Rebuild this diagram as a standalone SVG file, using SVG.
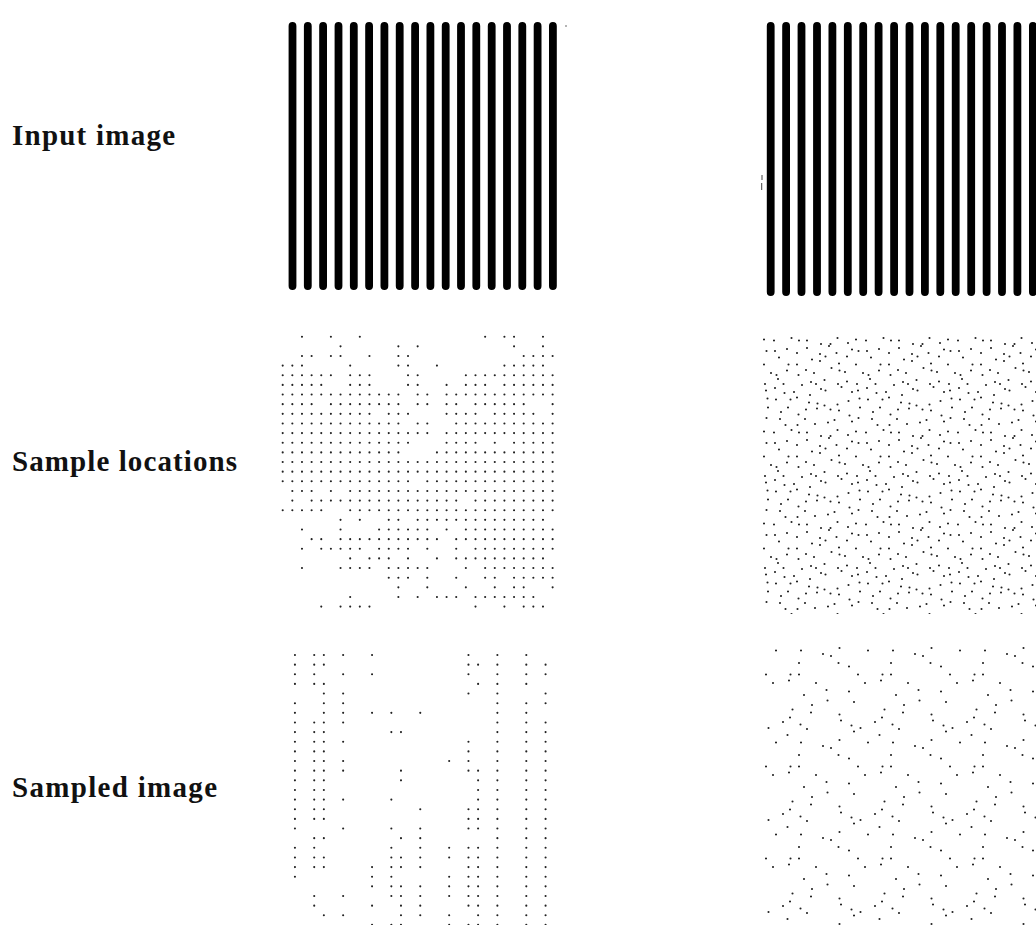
<svg xmlns="http://www.w3.org/2000/svg" width="1036" height="925" viewBox="0 0 1036 925">
<style>
.lbl{font-family:"Liberation Serif","DejaVu Serif",serif;font-weight:bold;font-size:29px;fill:#111}
.bar{stroke:#000;stroke-width:7.8;stroke-linecap:round;fill:none}
.gd{fill:none;stroke:#222;stroke-width:0.22;stroke-linecap:round;stroke-dasharray:0 1}
.rd{fill:none;stroke:#222;stroke-width:2.1;stroke-linecap:round}
</style>
<defs>
<pattern id="rl" patternUnits="userSpaceOnUse" x="762" y="335" width="92" height="92">
<path class="rd" d="M2 4.5h.01M12 5.5h.01M29.5 3h.01M37 5.5h.01M45 5.5h.01M59 9h.01M68.5 9h.01M75.5 3h.01M86 8h.01M4.5 16h.01M13 16h.01M25 14h.01M35 18h.01M45 13h.01M58 19h.01M67 11h.01M74.5 18h.01M90 14.5h.01M2 29.5h.01M17 22.5h.01M26.5 29.5h.01M35 29.5h.01M50 24.5h.01M58 26h.01M63.5 21.5h.01M77 28.5h.01M85 21.5h.01M9 38h.01M14.5 40h.01M25 35.5h.01M36.5 40h.01M44 35h.01M52 38h.01M69.5 33h.01M77.5 35.5h.01M83 37h.01M3 49h.01M16 44h.01M21.5 49h.01M40 50h.01M49 47h.01M54 49h.01M62.5 45h.01M76 49h.01M85 46.5h.01M4 55.5h.01M13 53h.01M22.5 58h.01M32 57h.01M48 60h.01M59 54h.01M63.5 55.5h.01M79.5 52h.01M90 57h.01M5.5 63.5h.01M14 64.5h.01M28.5 64.5h.01M35 62.5h.01M47 67.5h.01M55.5 68.5h.01M62.5 70.5h.01M75.5 69.5h.01M86.5 66h.01M6 72.5h.01M19 77h.01M26 72.5h.01M36.5 79.5h.01M44 74.5h.01M55 73.5h.01M68.5 74.5h.01M77 75.5h.01M87.5 80.5h.01M4.5 83h.01M18 84h.01M23.5 90h.01M35.5 90h.01M43 84h.01M53 89h.01M66 87.5h.01M72.5 85h.01M90 86.5h.01"/>
</pattern>
<pattern id="rs" patternUnits="userSpaceOnUse" x="764" y="645" width="92" height="92">
<path class="rd" d="M12 5.5h.01M37 5.5h.01M59 9h.01M75.5 3h.01M35 18h.01M67 11h.01M74.5 18h.01M2 29.5h.01M26.5 29.5h.01M35 29.5h.01M85 21.5h.01M9 38h.01M25 35.5h.01M52 38h.01M40 50h.01M62.5 45h.01M85 46.5h.01M48 60h.01M63.5 55.5h.01M90 57h.01M28.5 64.5h.01M47 67.5h.01M75.5 69.5h.01M19 77h.01M26 72.5h.01M36.5 79.5h.01M77 75.5h.01M87.5 80.5h.01M4.5 83h.01M23.5 90h.01M43 84h.01M90 86.5h.01"/>
</pattern>
</defs>
<rect width="1036" height="925" fill="#fff"/>

<g id="labels">
<text class="lbl" x="12" y="145" textLength="163" lengthAdjust="spacing">Input image</text>
<text class="lbl" x="12" y="471" textLength="225" lengthAdjust="spacing">Sample locations</text>
<text class="lbl" x="12" y="797" textLength="205" lengthAdjust="spacing">Sampled image</text>
</g>

<g id="input-left">
<path class="bar" d="M292.5 26V286M307.8 26V286M323.1 26V286M338.5 26V286M353.8 26V286M369.1 26V286M384.4 26V286M399.7 26V286M415.1 26V286M430.4 26V286M445.7 26V286M461 26V286M476.3 26V286M491.7 26V286M507 26V286M522.3 26V286M537.6 26V286M552.9 26V286"/>
<circle cx="566" cy="26" r="0.8" fill="#555"/>
</g>

<g id="input-right">
<path class="bar" d="M770.7 26V292M786.1 26V292M801.5 26V292M817 26V292M832.4 26V292M847.8 26V292M863.2 26V292M878.6 26V292M894.1 26V292M909.5 26V292M924.9 26V292M940.3 26V292M955.7 26V292M971.2 26V292M986.6 26V292M1002 26V292M1017.4 26V292M1032.9 26V292"/>
<rect x="761.5" y="175" width="1" height="5" fill="#444"/>
<rect x="761.2" y="183" width="1" height="7" fill="#444"/>
</g>

<g id="locations-left" transform="translate(282.7,336.7) scale(9.64)">
<path class="gd" d="M2 0h.05M5 0h.05M8 0h.05M21 0h.05M23 0h1.05M27 0h.05
M6 1h.05M12 1h.05M14 1h.05M24 1h.05M27 1h.05
M2 2h1.05M5 2h1.05M9 2h.05M12 2h1.05M25 2h3.05
M0 3h2.05M7 3h.05M12 3h1.05M16 3h.05M23 3h4.05
M0 4h5.05M7 4h2.05M13 4h1.05M19 4h9.05
M0 5h4.05M7 5h2.05M13 5h1.05M17 5h.05M19 5h2.05M23 5h5.05
M0 6h12.05M14 6h1.05M17 6h11.05
M0 7h3.05M5 7h7.05M14 7h1.05M17 7h1.05M20 7h5.05M28 7h.05
M0 8h9.05M11 8h2.05M17 8h3.05M22 8h4.05M28 8h.05
M0 9h12.05M14 9h1.05M18 9h10.05
M0 10h15.05M17 10h11.05
M0 11h13.05M17 11h3.05M22 11h.05M24 11h4.05
M0 12h12.05M16 12h12.05
M0 13h28.05
M0 14h28.05
M0 15h13.05M15 15h13.05
M1 16h2.05M5 16h.05M7 16h21.05
M1 17h.05M3 17h15.05M20 17h8.05
M0 18h4.05M7 18h21.05
M6 19h.05M8 19h.05M11 19h1.05M14 19h13.05
M2 20h.05M6 20h.05M10 20h5.05M17 20h.05M19 20h9.05
M3 21h1.05M6 21h10.05M18 21h10.05
M2 22h.05M4 22h4.05M10 22h3.05M15 22h.05M18 22h.05M20 22h8.05
M7 23h.05M9 23h2.05M13 23h.05M16 23h.05M18 23h9.05
M2 24h.05M6 24h3.05M11 24h4.05M19 24h.05M21 24h7.05
M11 25h2.05M15 25h.05M18 25h.05M21 25h1.05M24 25h4.05
M12 26h.05M15 26h.05M19 26h.05M22 26h.05M24 26h1.05M28 26h.05
M7 27h.05M12 27h.05M14 27h.05M16 27h2.05M20 27h6.05
M4 28h.05M6 28h3.05M20 28h.05M23 28h.05M25 28h2.05"/>
</g>

<g id="locations-right">
<rect x="762" y="335" width="274" height="279" fill="url(#rl)"/>
</g>

<g id="sampled-left" transform="translate(285.3,655) scale(9.64)">
<path class="gd" d="M1 0h.05M3 0h1.05M6 0h.05M9 0h.05M19 0h.05M22 0h.05M25 0h.05
M1 1h.05M3 1h1.05M19 1h1.05M22 1h.05M25 1h.05M27 1h.05
M1 2h.05M3 2h.05M6 2h.05M9 2h.05M19 2h.05M22 2h.05M25 2h.05M27 2h.05
M1 3h.05M3 3h1.05M20 3h.05M22 3h.05M25 3h.05
M4 4h.05M6 4h.05M19 4h.05M22 4h.05M27 4h.05
M1 5h.05M4 5h.05M6 5h.05M22 5h.05M25 5h.05M27 5h.05
M1 6h.05M4 6h.05M6 6h.05M9 6h.05M11 6h.05M14 6h.05M22 6h.05M25 6h.05
M1 7h.05M3 7h1.05M6 7h.05M22 7h.05M25 7h.05M27 7h.05
M1 8h.05M3 8h1.05M11 8h1.05M22 8h.05M25 8h.05M27 8h.05
M1 9h.05M3 9h1.05M6 9h.05M19 9h.05M22 9h.05M25 9h.05M27 9h.05
M1 10h.05M3 10h1.05M19 10h.05M22 10h.05M25 10h.05M27 10h.05
M1 11h.05M3 11h1.05M6 11h.05M17 11h.05M19 11h.05M22 11h.05M25 11h.05M27 11h.05
M1 12h.05M3 12h1.05M6 12h.05M12 12h.05M19 12h1.05M22 12h.05M25 12h.05M27 12h.05
M1 13h.05M3 13h1.05M12 13h.05M20 13h.05M22 13h.05M25 13h.05M27 13h.05
M1 14h.05M3 14h1.05M20 14h.05M22 14h.05M25 14h.05M27 14h.05
M1 15h.05M3 15h1.05M6 15h.05M11 15h.05M20 15h.05M22 15h.05M25 15h.05M27 15h.05
M1 16h.05M3 16h1.05M14 16h.05M19 16h1.05M22 16h.05M25 16h.05M27 16h.05
M1 17h.05M3 17h1.05M19 17h1.05M22 17h.05M25 17h.05M27 17h.05
M1 18h.05M6 18h.05M11 18h.05M14 18h.05M19 18h1.05M22 18h.05M25 18h.05M27 18h.05
M3 19h1.05M12 19h.05M14 19h.05M22 19h.05M25 19h.05M27 19h.05
M1 20h.05M3 20h.05M11 20h.05M14 20h.05M17 20h.05M19 20h1.05M22 20h.05M25 20h.05M27 20h.05
M1 21h.05M3 21h1.05M11 21h1.05M14 21h.05M17 21h.05M19 21h1.05M22 21h.05M25 21h.05M27 21h.05
M1 22h.05M3 22h1.05M9 22h.05M11 22h1.05M14 22h.05M19 22h1.05M22 22h.05M25 22h.05M27 22h.05
M1 23h.05M9 23h.05M11 23h.05M17 23h.05M19 23h1.05M22 23h.05M25 23h.05M27 23h.05
M9 24h.05M11 24h1.05M14 24h.05M17 24h.05M19 24h1.05M22 24h.05M25 24h.05M27 24h.05
M3 25h.05M6 25h.05M11 25h1.05M14 25h.05M17 25h.05M19 25h1.05M22 25h.05M25 25h.05M27 25h.05
M3 26h.05M9 26h.05M12 26h.05M14 26h.05M19 26h1.05M22 26h.05M25 26h.05M27 26h.05
M4 27h.05M6 27h.05M12 27h.05M14 27h.05M17 27h.05M20 27h.05M22 27h.05M25 27h.05M27 27h.05
M9 28h.05M11 28h1.05M17 28h.05M19 28h1.05M22 28h.05M25 28h.05M27 28h.05"/>
</g>

<g id="sampled-right">
<rect x="764" y="645" width="272" height="280" fill="url(#rs)"/>
</g>
</svg>
